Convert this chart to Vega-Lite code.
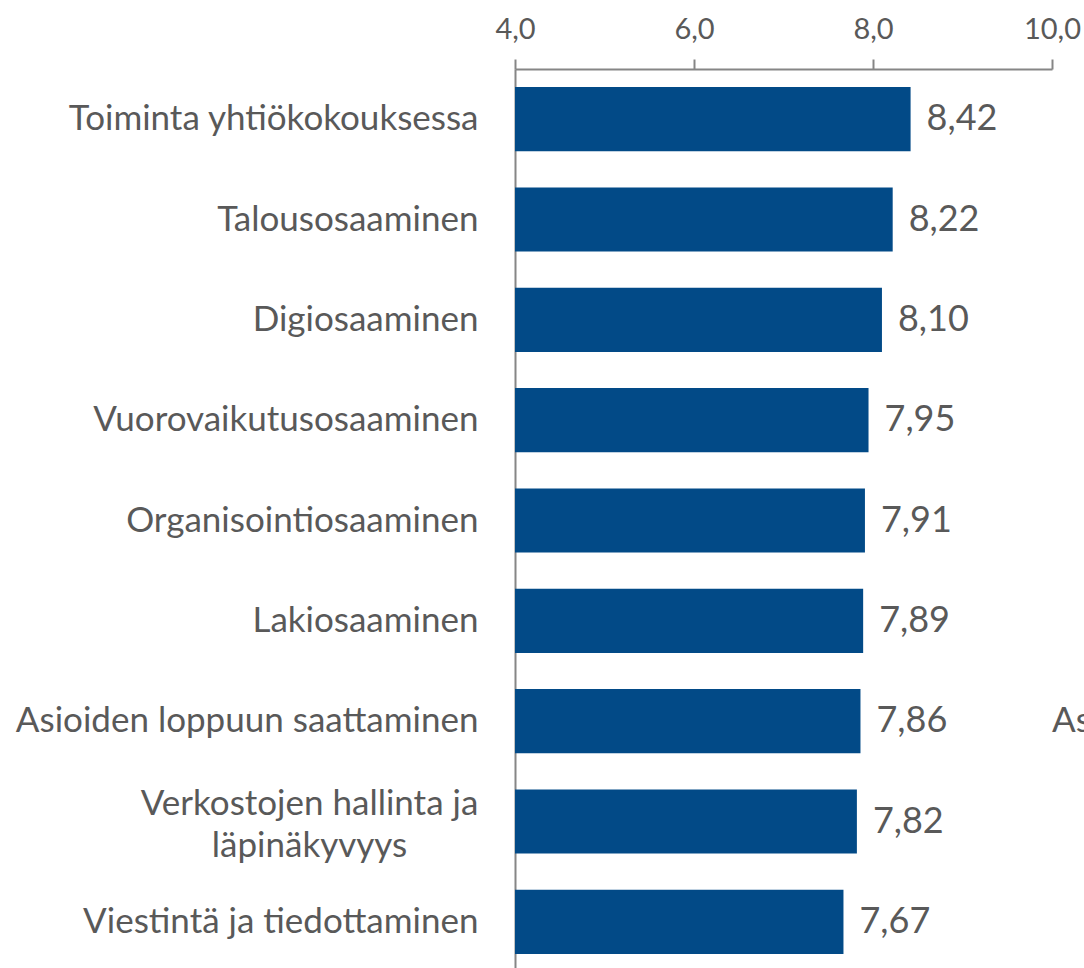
{
  "$schema": "https://vega.github.io/schema/vega-lite/v6.json",
  "autosize": "none",
  "width": 537,
  "height": 903,
  "padding": {"left": 515, "top": 69, "right": 32, "bottom": 0},
  "background": "#ffffff",
  "config": {
    "view": {"stroke": null},
    "locale": {"number": {"decimal": ",", "thousands": " ", "grouping": [3], "currency": ["", " €"]}},
    "font": "Lato"
  },
  "datasets": {
    "scores": [
      {"osaaminen": "Toiminta yhtiökokouksessa", "arvo": 8.42},
      {"osaaminen": "Talousosaaminen", "arvo": 8.22},
      {"osaaminen": "Digiosaaminen", "arvo": 8.10},
      {"osaaminen": "Vuorovaikutusosaaminen", "arvo": 7.95},
      {"osaaminen": "Organisointiosaaminen", "arvo": 7.91},
      {"osaaminen": "Lakiosaaminen", "arvo": 7.89},
      {"osaaminen": "Asioiden loppuun saattaminen", "arvo": 7.86},
      {"osaaminen": "Verkostojen hallinta ja läpinäkyvyys", "arvo": 7.82},
      {"osaaminen": "Viestintä ja tiedottaminen", "arvo": 7.67}
    ],
    "neighbour": [
      {"osaaminen": "Asioiden loppuun saattaminen", "arvo": 10, "teksti": "Asioiden loppuun saattaminen"}
    ]
  },
  "layer": [
    {
      "data": {"name": "scores"},
      "mark": {"type": "bar", "color": "#024A87"},
      "encoding": {
        "y": {
          "field": "osaaminen",
          "type": "nominal",
          "sort": null,
          "scale": {"paddingInner": 0.36, "paddingOuter": 0.18},
          "axis": {
            "title": null,
            "ticks": false,
            "domain": true,
            "domainColor": "#868686",
            "domainWidth": 2,
            "labelColor": "#595959",
            "labelFont": "Lato",
            "labelFontSize": 35,
            "labelPadding": {"condition": {"test": "datum.value == 'Verkostojen hallinta ja läpinäkyvyys'", "value": 206}, "value": 37},
            "labelAlign": {"condition": {"test": "datum.value == 'Verkostojen hallinta ja läpinäkyvyys'", "value": "center"}, "value": "right"},
            "labelOffset": {"condition": {"test": "datum.value == 'Verkostojen hallinta ja läpinäkyvyys'", "value": -18}, "value": 0},
            "labelLimit": 600,
            "labelLineHeight": 42,
            "labelBaseline": "middle",
            "labelExpr": "datum.value == 'Verkostojen hallinta ja läpinäkyvyys' ? ['Verkostojen hallinta ja', 'läpinäkyvyys'] : datum.value"
          }
        },
        "x": {
          "field": "arvo",
          "type": "quantitative",
          "scale": {"domain": [4, 10], "nice": false, "zero": false},
          "axis": {
            "orient": "top",
            "title": null,
            "values": [4, 6, 8, 10],
            "format": ".1f",
            "grid": false,
            "domainColor": "#868686",
            "domainWidth": 2,
            "tickColor": "#868686",
            "tickWidth": 2,
            "tickSize": 10,
            "labelColor": "#595959",
            "labelFont": "Lato",
            "labelFontSize": 29,
            "labelPadding": 21,
            "labelBaseline": "alphabetic",
            "labelFlush": false
          }
        },
        "x2": {"datum": 4}
      }
    },
    {
      "data": {"name": "scores"},
      "mark": {"type": "text", "align": "left", "baseline": "middle", "dx": 16, "color": "#595959", "font": "Lato", "fontSize": 36},
      "encoding": {
        "y": {"field": "osaaminen", "type": "nominal", "sort": null},
        "x": {"field": "arvo", "type": "quantitative"},
        "text": {"field": "arvo", "type": "quantitative", "format": ".2f"}
      }
    },
    {
      "data": {"name": "neighbour"},
      "mark": {"type": "text", "align": "left", "baseline": "middle", "color": "#595959", "font": "Lato", "fontSize": 35},
      "encoding": {
        "y": {"field": "osaaminen", "type": "nominal", "sort": null},
        "x": {"field": "arvo", "type": "quantitative"},
        "text": {"field": "teksti"}
      }
    }
  ]
}
